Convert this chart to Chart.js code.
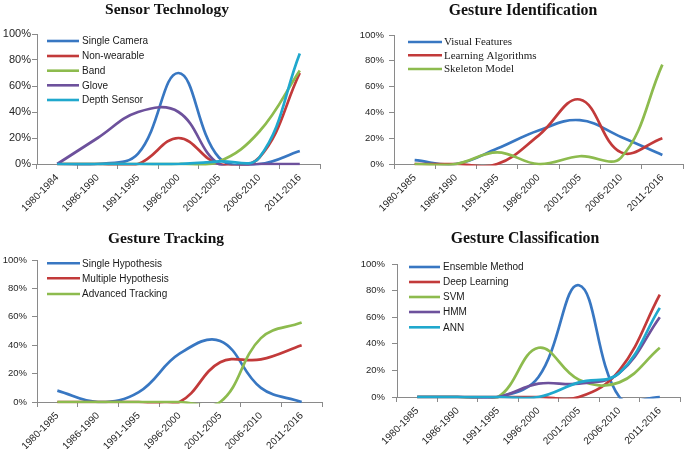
<!DOCTYPE html>
<html><head><meta charset="utf-8">
<script src="https://cdn.jsdelivr.net/npm/chart.js@4.4.0/dist/chart.umd.min.js"></script>
<style>
html,body{margin:0;padding:0;background:#fff;}
#wrap{position:relative;width:685px;height:449px;overflow:hidden;background:#fff;}
.p{position:absolute;}
canvas{display:block;}
</style></head><body>
<div id="wrap">
<div class="p" style="left:0;top:0;"><canvas id="c1" width="340" height="225"></canvas></div>
<div class="p" style="left:340px;top:0;"><canvas id="c2" width="345" height="225"></canvas></div>
<div class="p" style="left:0;top:225px;"><canvas id="c3" width="340" height="224"></canvas></div>
<div class="p" style="left:340px;top:225px;"><canvas id="c4" width="345" height="224"></canvas></div>
</div>
<script>
// ---- categories ----
const sensorCategories = ['1980-1984','1986-1990','1991-1995','1996-2000','2001-2005','2006-2010','2011-2016'];
const periodCategories = ['1980-1985','1986-1990','1991-1995','1996-2000','2001-2005','2006-2010','2011-2016'];
// ---- tick labels (percent) ----
const percentTicks = [0, 20, 40, 60, 80, 100];

// ---- Sensor Technology ----
const sensorSingleCamera = [0, 0, 8, 70, 5, 0, 10];
const sensorNonWearable  = [0, 0, 0, 20, 0, 5, 70];
const sensorBand         = [0, 0, 0, 0, 2, 25, 72];
const sensorGlove        = [0, 20, 40, 40, 0, 0, 0];
const sensorDepth        = [0, 0, 0, 0, 2, 5, 85];

// ---- Gesture Identification ----
const identVisual   = [3, 0, 12, 26, 34, 21, 7];
const identLearning = [0, 0, 0, 22, 50, 9, 20];
const identSkeleton = [0, 0, 9, 0, 6, 5, 77];

// ---- Gesture Tracking ----
const trackSingle   = [8, 0, 7, 34, 43, 10, 0];
const trackMultiple = [0, 0, 0, 0, 28, 30, 40];
const trackAdvanced = [0, 0, 0, 0, 0, 45, 56];

// ---- Gesture Classification ----
const classEnsemble = [0, 0, 0, 15, 84, 0, 0];
const classDeep     = [0, 0, 0, 0, 0, 20, 77];
const classSVM      = [0, 0, 0, 37, 13, 11, 37];
const classHMM      = [0, 0, 0, 10, 10, 18, 60];
const classANN      = [0, 0, 0, 0, 11, 18, 67];

const C = {
  blue: '#3877C2', red: '#C23A3A', green: '#8DBB4E', purple: '#6D519C', cyan: '#20A8CD'
};
const SANS = '"Liberation Sans", Arial, sans-serif';
const SERIF = '"Liberation Serif", "Times New Roman", serif';
const AXIS = '#8a8a8a';

const decorPlugin = {
  id: 'decor',
  afterDraw(chart) {
    const o = chart.options.plugins.decor;
    const ctx = chart.ctx;
    ctx.save();
    ctx.fillStyle = '#111';
    ctx.font = 'bold ' + o.titleSize + 'px ' + SERIF;
    ctx.textAlign = 'center';
    ctx.textBaseline = 'alphabetic';
    ctx.fillText(o.title, o.titleX, o.titleY);
    ctx.font = o.legendFont;
    ctx.textAlign = 'left';
    ctx.textBaseline = 'middle';
    chart.data.datasets.forEach((ds, i) => {
      const y = o.rows[i];
      ctx.strokeStyle = ds.borderColor;
      ctx.lineWidth = 2.6;
      ctx.lineCap = 'butt';
      ctx.beginPath();
      ctx.moveTo(o.lx1, y);
      ctx.lineTo(o.lx2, y);
      ctx.stroke();
      ctx.fillStyle = '#1a1a1a';
      ctx.fillText(ds.label, o.tx, y + 0.5);
    });
    ctx.restore();
  }
};

function makeChart(id, W, H, g, labels, series, decor, fonts) {
  const n = series.length;
  const datasets = series.map((s, i) => ({
    label: s.label, data: s.data, borderColor: s.color, backgroundColor: s.color,
    borderWidth: 2.7, pointRadius: 0, tension: 0.4, fill: false, clip: 1.5,
    order: n - i
  }));
  return new Chart(document.getElementById(id), {
    type: 'line',
    data: { labels: labels, datasets: datasets },
    plugins: [decorPlugin],
    options: {
      responsive: false, animation: false, devicePixelRatio: 1,
      layout: { padding: { left: 0, right: W - g.right, top: g.top, bottom: 0 } },
      elements: { line: { capBezierPoints: false } },
      plugins: { legend: { display: false }, tooltip: { enabled: false }, title: { display: false }, decor: decor },
      scales: {
        x: {
          type: 'category', offset: true,
          grid: { offset: true, drawOnChartArea: false, drawTicks: true, tickLength: 5, color: AXIS },
          border: { display: true, color: AXIS, width: 1 },
          ticks: { autoSkip: false, maxRotation: 45, minRotation: 45, padding: fonts.xPad,
                   color: '#262626', font: { family: SANS, size: fonts.x } },
          afterFit: s => { s.height = H - g.bottom; }
        },
        y: {
          min: 0, max: 100,
          afterBuildTicks: s => { s.ticks = percentTicks.map(v => ({ value: v })); },
          grid: { drawOnChartArea: false, drawTicks: true, tickLength: fonts.yTick, color: AXIS },
          border: { display: true, color: AXIS, width: 1 },
          ticks: { padding: fonts.yPad, color: '#262626', font: { family: SANS, size: fonts.y },
                   callback: v => v + '%' },
          afterFit: s => { s.width = g.left; }
        }
      }
    }
  });
}

makeChart('c1', 340, 225, { left: 37, right: 320, top: 34, bottom: 164 }, sensorCategories, [
  { label: 'Single Camera', data: sensorSingleCamera, color: C.blue },
  { label: 'Non-wearable', data: sensorNonWearable, color: C.red },
  { label: 'Band', data: sensorBand, color: C.green },
  { label: 'Glove', data: sensorGlove, color: C.purple },
  { label: 'Depth Sensor', data: sensorDepth, color: C.cyan }
], { title: 'Sensor Technology', titleX: 167, titleY: 14, titleSize: 15.5,
     legendFont: '10px ' + SANS, lx1: 47, lx2: 79, tx: 82, rows: [41, 56, 70.7, 85.3, 100] },
   { x: 10, y: 11, xPad: 3, yPad: 1, yTick: 5 });

makeChart('c2', 345, 225, { left: 54, right: 343, top: 35, bottom: 164 }, periodCategories, [
  { label: 'Visual Features', data: identVisual, color: C.blue },
  { label: 'Learning Algorithms', data: identLearning, color: C.red },
  { label: 'Skeleton Model', data: identSkeleton, color: C.green }
], { title: 'Gesture Identification', titleX: 183, titleY: 15, titleSize: 15.8,
     legendFont: '11px ' + SERIF, lx1: 68, lx2: 102, tx: 104, rows: [42, 55.3, 69] },
   { x: 10, y: 9.5, xPad: 3, yPad: 5, yTick: 5 });

makeChart('c3', 340, 224, { left: 37, right: 322, top: 35, bottom: 177 }, periodCategories, [
  { label: 'Single Hypothesis', data: trackSingle, color: C.blue },
  { label: 'Multiple Hypothesis', data: trackMultiple, color: C.red },
  { label: 'Advanced Tracking', data: trackAdvanced, color: C.green }
], { title: 'Gesture Tracking', titleX: 166, titleY: 17.5, titleSize: 15.5,
     legendFont: '10px ' + SANS, lx1: 47, lx2: 80, tx: 82, rows: [38.3, 53.3, 69] },
   { x: 10, y: 9.5, xPad: 3, yPad: 5, yTick: 5 });

makeChart('c4', 345, 224, { left: 57, right: 340, top: 39, bottom: 172 }, periodCategories, [
  { label: 'Ensemble Method', data: classEnsemble, color: C.blue },
  { label: 'Deep Learning', data: classDeep, color: C.red },
  { label: 'SVM', data: classSVM, color: C.green },
  { label: 'HMM', data: classHMM, color: C.purple },
  { label: 'ANN', data: classANN, color: C.cyan }
], { title: 'Gesture Classification', titleX: 185, titleY: 17.5, titleSize: 15.8,
     legendFont: '10px ' + SANS, lx1: 69, lx2: 100, tx: 103, rows: [42, 57, 72, 87, 102.3] },
   { x: 10, y: 9.5, xPad: 3, yPad: 7, yTick: 5 });
</script>
</body></html>
